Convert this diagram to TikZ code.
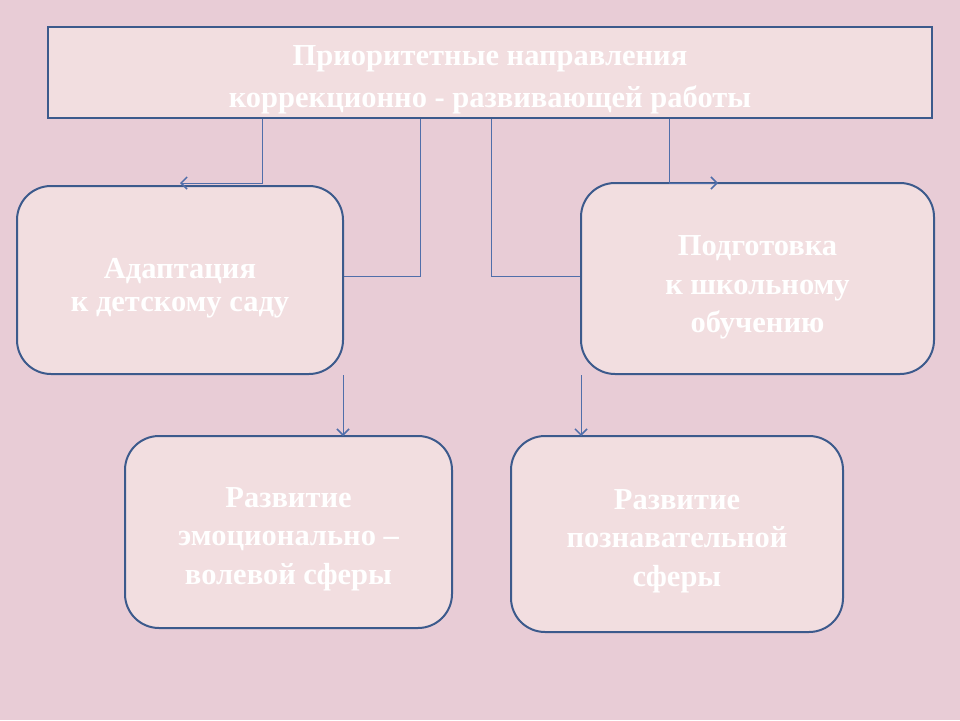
\documentclass[tikz,border=0pt]{standalone}
\usepackage{fontspec}
\setmainfont{Liberation Serif}
\usetikzlibrary{arrows.meta}
\definecolor{bg}{RGB}{232,204,214}
\definecolor{boxf}{RGB}{242,222,224}
\definecolor{bord}{RGB}{60,90,140}
\definecolor{lnk}{RGB}{80,110,170}
\begin{document}
\begin{tikzpicture}[x=1pt,y=-1pt,
 rbox/.style={draw=bord,line width=2pt,fill=boxf,rounded corners=34pt,inner sep=0pt},
 txt/.style={text=white,font=\bfseries\fontsize{30.5}{38.5}\selectfont,align=center,inner sep=0pt},
 conn/.style={draw=lnk,line width=0.9pt},
 arr/.style={conn,-{Straight Barb[length=6pt,width=12pt,line width=1.5pt]}}]
\fill[bg] (0,0) rectangle (960,720);
\node[draw=bord,line width=2pt,fill=boxf,minimum width=884pt,minimum height=91pt,inner sep=0pt] (top) at (490,72.5) {};
\node[txt,font=\bfseries\fontsize{30.5}{42}\selectfont] (topt) at (490,79.5) {Приоритетные направления\\коррекционно - развивающей работы};
\node[rbox,minimum width=326pt,minimum height=188pt] (a) at (180,280) {};
\node[txt,font=\bfseries\fontsize{30.5}{33}\selectfont] (at) at (180,288) {Адаптация\\к детскому саду};
\node[rbox,minimum width=353pt,minimum height=191pt] (p) at (757.5,278.5) {};
\node[txt] (pt) at (757.5,287.5) {Подготовка\\к школьному\\обучению};
\node[rbox,minimum width=327pt,minimum height=192pt] (e) at (288.5,532) {};
\node[txt] (et) at (288.5,539) {Развитие\\эмоционально –\\волевой сферы};
\node[rbox,minimum width=332pt,minimum height=196pt] (c) at (677,534) {};
\node[txt] (ct) at (677,541) {Развитие\\познавательной\\сферы};
\coordinate (a1) at (180,183);
\coordinate (p1) at (718,183);
\draw[arr] (top.south -| 262,0) |- (a1);
\draw[arr] (top.south -| 669,0) |- (p1);
\draw[conn] (top.south -| 420,0) |- (a.east |- 0,276);
\draw[conn] (top.south -| 491,0) |- (p.west |- 0,276);
\draw[arr] (a.south -| 343,0) -- (343,436);
\draw[arr] (p.south -| 581,0) -- (581,436);
\end{tikzpicture}
\end{document}
